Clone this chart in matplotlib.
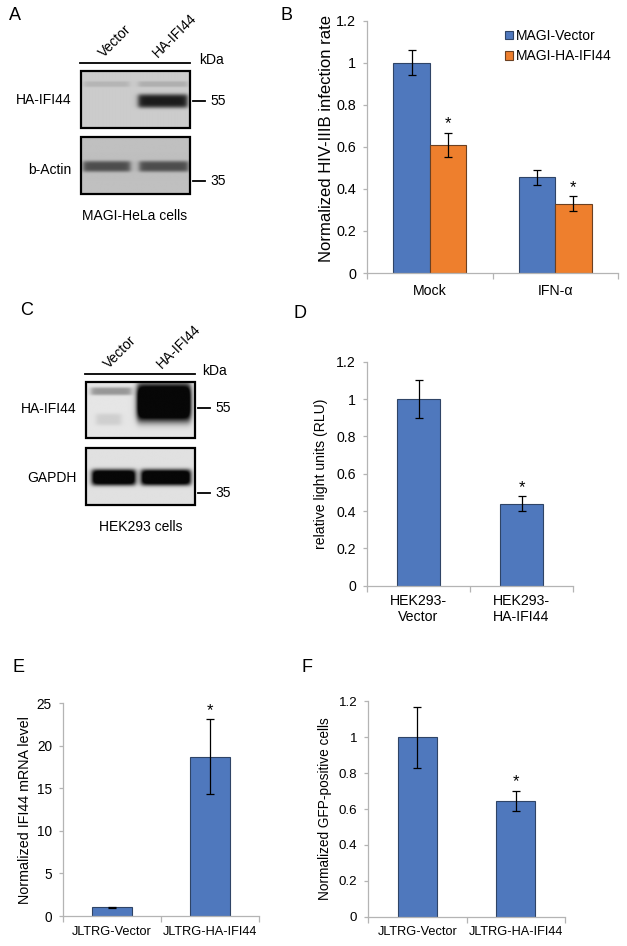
import numpy as np
import matplotlib
matplotlib.use("Agg")
import matplotlib.pyplot as plt
from matplotlib.patches import Rectangle

plt.rcParams['font.family'] = ['Liberation Sans', 'DejaVu Sans']

W, H = 627, 946

# ---- data ----
# B: HIV-IIIB infection in MAGI cells
b_groups = ['Mock', 'IFN-α']
b_series = ['MAGI-Vector', 'MAGI-HA-IFI44']
b_vector = [1.0, 0.455]
b_vector_err = [0.06, 0.037]
b_ifi44 = [0.61, 0.33]
b_ifi44_err = [0.057, 0.036]

# D: luciferase RLU
d_labels = ['HEK293-\nVector', 'HEK293-\nHA-IFI44']
d_vals = [1.0, 0.44]
d_err = [0.1, 0.04]

# E: IFI44 mRNA
e_labels = ['JLTRG-Vector', 'JLTRG-HA-IFI44']
e_vals = [1.0, 18.7]
e_err = [0.1, 4.4]

# F: GFP positive cells
f_labels = ['JLTRG-Vector', 'JLTRG-HA-IFI44']
f_vals = [1.0, 0.645]
f_err = [0.17, 0.058]

# western blot band strengths, lanes = Vector, HA-IFI44
lanes = ['Vector', 'HA-IFI44']
a_ifi44 = [0.0, 0.9]
a_nonspec = [0.12, 0.15]
a_actin = [0.62, 0.62]
c_ifi44 = [0.35, 1.0]
c_gapdh = [1.0, 1.0]

BLUE = '#4F78BD'
ORANGE = '#EE7F2D'
AXC = '#b4b4b4'

fig = plt.figure(figsize=(W / 100, H / 100), dpi=100)
bg = fig.add_axes([0, 0, 1, 1])
bg.set_xlim(0, W); bg.set_ylim(H, 0); bg.axis('off')


def px_axes(l, t, r, b):
    return fig.add_axes([l / W, 1 - b / H, (r - l) / W, (b - t) / H])


def style(ax, ymax, step, labels, ylabel, lab_x, lab_y=0.5, pad=6,
          xfs=10, yfs=10, lfs=10):
    ax.set_xlim(-0.5, 1.5)
    ax.set_ylim(0, ymax)
    ticks = np.arange(0, ymax + step / 2, step)
    ax.set_yticks(ticks)
    ax.set_yticklabels([f'{v:g}' for v in ticks])
    for s in ['top', 'right']:
        ax.spines[s].set_visible(False)
    for s in ['left', 'bottom']:
        ax.spines[s].set_color(AXC)
        ax.spines[s].set_linewidth(0.9)
    ax.set_xticks([0, 1])
    ax.set_xticklabels(labels)
    ax.set_xticks([-0.5, 0.5, 1.5], minor=True)
    ax.tick_params(axis='x', which='major', length=0, pad=pad, labelsize=xfs)
    ax.tick_params(axis='x', which='minor', length=4, color=AXC, width=0.9)
    ax.tick_params(axis='y', length=3, color=AXC, width=0.9, pad=5, labelsize=yfs)
    ax.set_ylabel(ylabel, fontsize=lfs)
    ax.yaxis.set_label_coords(lab_x, lab_y)


def star(ax, x, top):
    ax.annotate('*', (x, top), xytext=(0, 1), textcoords='offset points',
                ha='center', va='bottom', fontsize=12)


ekw = dict(elinewidth=0.9, capthick=0.9)

# ---- B ----
axB = px_axes(367, 20.7, 618, 273)
x = np.arange(len(b_groups))
bw = 0.29
axB.bar(x - bw / 2, b_vector, bw, yerr=b_vector_err, color=BLUE, edgecolor='#2f4466',
        linewidth=0.8, capsize=3, error_kw=ekw, label=b_series[0], zorder=2)
axB.bar(x + bw / 2, b_ifi44, bw, yerr=b_ifi44_err, color=ORANGE, edgecolor='#6b4022',
        linewidth=0.8, capsize=3, error_kw=ekw, label=b_series[1], zorder=2)
for i in x:
    star(axB, i + bw / 2, b_ifi44[i] + b_ifi44_err[i])
style(axB, 1.2, 0.2, b_groups, 'Normalized HIV-IIIB infection rate', (334 - 367) / 251, 0.535,
      pad=8, xfs=10.2, yfs=10.4, lfs=12)
axB.legend(loc='upper left', bbox_to_anchor=(498 / W, 1 - 22 / H), bbox_transform=fig.transFigure,
           frameon=False, fontsize=10, handlelength=0.6, handleheight=0.6, handletextpad=0.2,
           labelspacing=0.45, borderpad=0)

# ---- D ----
axD = px_axes(367, 361.7, 573, 585.7)
axD.bar(x, d_vals, 0.41, yerr=d_err, color=BLUE, edgecolor='#2f4466', linewidth=0.8,
        capsize=3, error_kw=ekw, zorder=2)
star(axD, 1, d_vals[1] + d_err[1])
style(axD, 1.2, 0.2, d_labels, 'relative light units (RLU)', (328 - 367) / 206, pad=6,
      xfs=10.2, yfs=10.2, lfs=10.1)

# ---- E ----
axE = px_axes(63, 703.3, 259, 916)
axE.bar(x, e_vals, 0.40, yerr=e_err, color=BLUE, edgecolor='#2f4466', linewidth=0.8,
        capsize=3, error_kw=ekw, zorder=2)
star(axE, 1, e_vals[1] + e_err[1])
style(axE, 25, 5, e_labels, 'Normalized IFI44 mRNA level', (32 - 63) / 196, pad=7,
      xfs=9.2, yfs=9.8, lfs=10.3)

# ---- F ----
axF = px_axes(368.3, 701.3, 565, 916.7)
axF.bar(x, f_vals, 0.40, yerr=f_err, color=BLUE, edgecolor='#2f4466', linewidth=0.8,
        capsize=3, error_kw=ekw, zorder=2)
star(axF, 1, f_vals[1] + f_err[1])
style(axF, 1.2, 0.2, f_labels, 'Normalized GFP-positive cells', (332 - 368.3) / 196.7, pad=7,
      xfs=9.2, yfs=9.6, lfs=9.8)


# ---- western blots ----
def blot(l, t, r, b, base, bands):
    w, h = r - l, b - t
    xs = np.linspace(0, w, int(w * 3))
    ys = np.linspace(0, h, int(h * 3))
    X, Y = np.meshgrid(xs, ys)
    dark = np.zeros_like(X)
    for x0, x1, yc, hh, s in bands:
        fx = 1 / (1 + np.exp(-(X - x0) / 1.5)) / (1 + np.exp((X - x1) / 1.5))
        fy = np.exp(-((Y - yc) / hh) ** 4)
        dark += s * fx * fy
    img = base - (base - 0.03) * np.clip(dark, 0, 1)
    bg.imshow(img, cmap='gray', vmin=0, vmax=1, extent=(l, r, b, t), aspect='auto',
              interpolation='bilinear', zorder=1)
    bg.add_patch(Rectangle((l, t), w, h, fill=False, edgecolor='black', linewidth=1.6, zorder=3))


# panel A
blot(80.7, 71, 190, 128, 0.80,
     [(3, 48, 13, 3, a_nonspec[0]), (57, 106, 13, 3, a_nonspec[1]),
      (3, 48, 29, 6, a_ifi44[0]), (57, 106, 30, 7, a_ifi44[1])])
blot(80.7, 136.7, 190, 194, 0.75,
     [(2, 49, 30, 5.5, a_actin[0]), (58, 107, 30, 5.5, a_actin[1])])
# panel C
blot(85.7, 381.7, 195, 438, 0.90,
     [(5, 45, 10, 4, c_ifi44[0]), (10, 35, 38, 6, c_ifi44[0] * 0.3),
      (51, 104, 21, 19, c_ifi44[1] * 1.5)])
blot(85.7, 447.7, 195, 505, 0.88,
     [(6, 49, 30, 8, c_gapdh[0] * 1.3), (55, 104, 30, 8, c_gapdh[1] * 1.3)])

fs = 10
for (lx, top_y, lane_x, row_lab, marks, caption, cap_xy, kda_x, dash_x) in [
        (80, 63, [104, 158], [('HA-IFI44', 71.7, 100), ('b-Actin', 71.7, 170)],
         [(55, 101), (35, 181)], 'MAGI-HeLa cells', (135, 216), 199, 193),
        (85, 374, [109, 162], [('HA-IFI44', 76.7, 409.3), ('GAPDH', 76.7, 477.7)],
         [(55, 407.7), (35, 493.3)], 'HEK293 cells', (140.5, 527.3), 202, 198)]:
    bg.plot([lx, lx + 110], [top_y, top_y], color='black', lw=1.3)
    for lane, lxx in zip(lanes, lane_x):
        bg.text(lxx, top_y - 5, lane, rotation=45, rotation_mode='anchor', ha='left',
                va='baseline', fontsize=fs)
    bg.text(kda_x, top_y - 3, 'kDa', ha='left', va='center', fontsize=fs)
    for name, rx, ry in row_lab:
        bg.text(rx, ry, name, ha='right', va='center', fontsize=fs)
    for kd, my in marks:
        bg.plot([dash_x, dash_x + 12], [my, my], color='black', lw=1.3)
        bg.text(dash_x + 17, my, str(kd), ha='left', va='center', fontsize=fs)
    bg.text(cap_xy[0], cap_xy[1], caption, ha='center', va='center', fontsize=fs)

for letter, lx, ly in [('A', 15, 16), ('B', 287, 16), ('C', 27, 310),
                       ('D', 300, 313), ('E', 19, 667), ('F', 307, 667)]:
    bg.text(lx, ly, letter, ha='center', va='center', fontsize=13)

fig.savefig('out.png', dpi=100)
